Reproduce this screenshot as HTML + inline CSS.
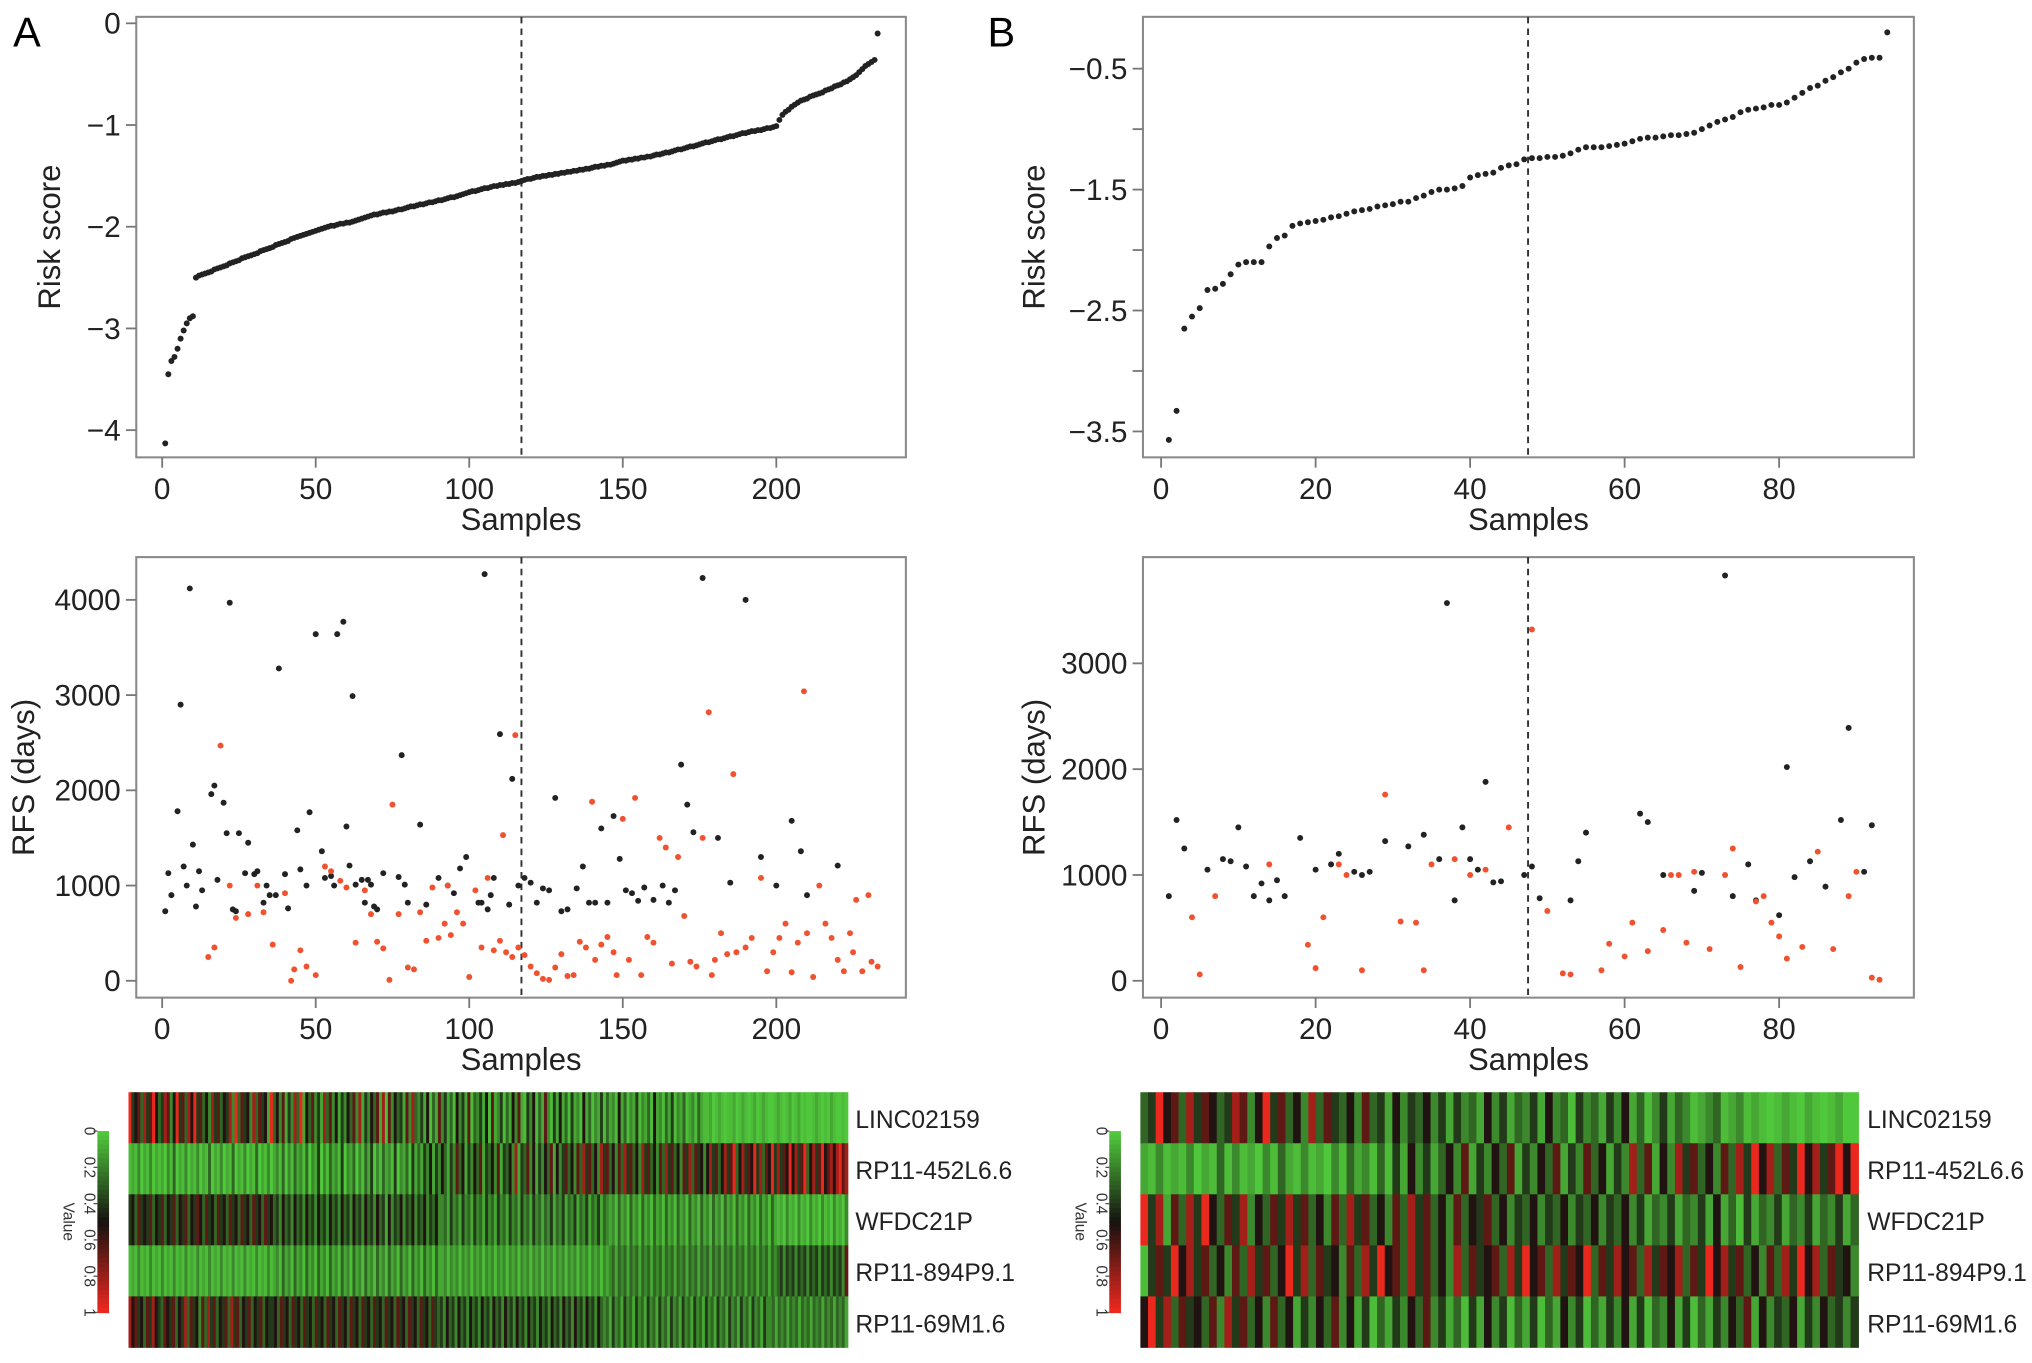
<!DOCTYPE html>
<html><head><meta charset="utf-8"><style>
html,body{margin:0;padding:0;background:#fff;}
svg{display:block;font-family:"Liberation Sans",Arial,sans-serif;}
</style></head><body>
<svg id="fig" width="2032" height="1363" viewBox="0 0 1568 1052" xmlns="http://www.w3.org/2000/svg">
<rect width="1568" height="1052" fill="#fff"/>
<text x="10" y="36" font-size="32">A</text>
<text x="762" y="36" font-size="32">B</text>
<g id="root"></g>
</svg>
<script>
// ---------- DATA ----------
const riskA = [-4.13,-3.45,-3.32,-3.28,-3.2,-3.1,-3.02,-2.95,-2.9,-2.88,-2.5,
-2.48,-2.47,-2.46,-2.45,-2.44,-2.42,-2.41,-2.4,-2.39,-2.38,
-2.36,-2.35,-2.34,-2.33,-2.31,-2.3,-2.29,-2.28,-2.27,-2.26,
-2.24,-2.23,-2.22,-2.21,-2.2,-2.18,-2.17,-2.16,-2.15,-2.14,
-2.12,-2.11,-2.1,-2.09,-2.08,-2.07,-2.06,-2.05,-2.04,-2.03,
-2.02,-2.01,-2.0,-1.99,-1.99,-1.98,-1.97,-1.97,-1.96,-1.96,
-1.95,-1.94,-1.93,-1.92,-1.91,-1.9,-1.89,-1.88,-1.88,-1.87,
-1.86,-1.86,-1.85,-1.85,-1.84,-1.83,-1.83,-1.82,-1.81,-1.8,
-1.8,-1.79,-1.78,-1.78,-1.77,-1.76,-1.76,-1.75,-1.74,-1.74,
-1.73,-1.72,-1.71,-1.71,-1.7,-1.69,-1.68,-1.67,-1.66,-1.65,
-1.65,-1.64,-1.63,-1.62,-1.62,-1.61,-1.6,-1.6,-1.59,-1.59,
-1.58,-1.58,-1.57,-1.57,-1.56,-1.55,-1.54,-1.53,-1.53,-1.52,
-1.51,-1.51,-1.5,-1.5,-1.49,-1.49,-1.48,-1.48,-1.47,-1.47,
-1.46,-1.46,-1.45,-1.45,-1.44,-1.44,-1.43,-1.43,-1.42,-1.41,
-1.41,-1.4,-1.4,-1.39,-1.39,-1.38,-1.37,-1.36,-1.35,-1.35,
-1.34,-1.34,-1.33,-1.33,-1.32,-1.32,-1.31,-1.31,-1.3,-1.29,
-1.29,-1.28,-1.27,-1.27,-1.26,-1.25,-1.24,-1.24,-1.23,-1.22,
-1.21,-1.21,-1.2,-1.19,-1.18,-1.17,-1.17,-1.16,-1.15,-1.14,
-1.14,-1.13,-1.12,-1.11,-1.11,-1.1,-1.09,-1.08,-1.08,-1.07,
-1.06,-1.06,-1.05,-1.05,-1.04,-1.03,-1.03,-1.02,-1.01,-0.95,
-0.9,-0.87,-0.85,-0.82,-0.8,-0.78,-0.76,-0.75,-0.74,-0.72,
-0.71,-0.7,-0.69,-0.68,-0.66,-0.65,-0.64,-0.62,-0.61,-0.6,
-0.58,-0.57,-0.55,-0.53,-0.51,-0.48,-0.45,-0.42,-0.4,-0.38,
-0.36,-0.1];
const riskB = [-3.57,-3.33,-2.65,-2.55,-2.48,-2.33,-2.32,-2.28,-2.2,-2.12,-2.1,-2.1,-2.1,-1.97,-1.9,-1.88,-1.8,-1.78,-1.77,-1.76,
-1.75,-1.73,-1.72,-1.7,-1.68,-1.67,-1.66,-1.64,-1.63,-1.62,-1.6,-1.6,-1.57,-1.55,-1.52,-1.5,-1.5,-1.49,-1.47,-1.4,
-1.38,-1.37,-1.36,-1.32,-1.3,-1.29,-1.25,-1.24,-1.24,-1.23,-1.23,-1.22,-1.2,-1.17,-1.15,-1.15,-1.15,-1.14,-1.13,-1.12,
-1.1,-1.08,-1.07,-1.07,-1.06,-1.05,-1.05,-1.04,-1.03,-1.0,-0.97,-0.94,-0.92,-0.9,-0.86,-0.84,-0.83,-0.82,-0.8,-0.8,
-0.78,-0.74,-0.7,-0.66,-0.64,-0.6,-0.57,-0.53,-0.5,-0.45,-0.42,-0.41,-0.41,-0.2];
const rfsAliveA = [[1,730],[2,1130],[3,900],[5,1780],[6,2900],[7,1200],[8,1000],[9,4120],[10,1430],[11,780],[12,1150],[13,950],[16,1960],[17,2050],[18,1060],[20,1870],[21,1550],[22,3970],[23,750],[24,730],[25,1550],[27,1130],[28,1450],[30,1120],[31,1150],[33,820],[34,1000],[35,900],[37,900],[38,3280],[40,1120],[41,760],[44,1580],[45,1170],[47,1000],[48,1770],[50,3640],[52,1360],[53,1080],[55,1100],[56,1000],[57,3640],[59,3770],[60,1620],[61,1210],[62,2990],[63,1010],[65,1060],[66,820],[67,1060],[68,1010],[69,780],[70,750],[72,1130],[77,1090],[78,2370],[79,1010],[80,820],[84,1640],[86,800],[90,1080],[93,1000],[95,920],[97,1180],[99,1300],[103,820],[104,820],[105,4270],[106,750],[107,900],[108,1080],[110,2590],[113,800],[114,2120],[116,1000],[118,1080],[120,1030],[122,820],[124,970],[126,950],[128,1920],[130,730],[132,750],[135,970],[137,1200],[139,820],[141,820],[143,1600],[145,820],[147,1730],[149,1280],[151,950],[153,920],[155,840],[157,980],[160,850],[163,1000],[165,820],[167,950],[169,2270],[171,1850],[173,1560],[176,4230],[181,1500],[185,1030],[190,4000],[195,1300],[200,1000],[205,1680],[208,1360],[210,900],[220,1210]];
const rfsEventA = [[15,250],[17,350],[19,2470],[22,1000],[24,660],[28,700],[31,1000],[33,720],[36,380],[40,920],[42,0],[43,120],[45,320],[47,150],[50,60],[53,1200],[55,1150],[58,1050],[60,980],[63,400],[66,950],[68,700],[70,410],[72,340],[74,10],[75,1850],[77,700],[80,140],[82,120],[84,720],[86,420],[88,980],[90,450],[92,600],[93,1000],[94,480],[96,720],[98,600],[100,40],[102,950],[104,350],[106,1080],[108,320],[110,420],[111,1530],[112,300],[114,250],[115,2580],[116,350],[118,270],[120,150],[122,80],[124,20],[126,10],[128,140],[130,280],[132,50],[134,60],[136,410],[138,350],[140,1880],[141,220],[143,380],[145,460],[147,300],[148,60],[150,1700],[152,220],[154,1920],[156,60],[158,460],[160,400],[162,1500],[164,1400],[166,180],[168,1300],[170,680],[172,200],[174,150],[176,1500],[178,2820],[179,60],[180,220],[182,500],[184,280],[186,2170],[187,300],[190,350],[192,450],[195,1080],[197,100],[199,300],[201,450],[203,600],[205,90],[207,400],[209,3040],[210,500],[212,40],[214,1000],[216,600],[218,450],[220,220],[222,100],[224,500],[225,300],[226,850],[228,100],[230,900],[231,200],[233,150]];
const rfsAliveB = [[1,800],[2,1520],[3,1250],[6,1050],[8,1150],[9,1130],[10,1450],[11,1080],[12,800],[13,920],[14,760],[15,950],[16,800],[18,1350],[20,1050],[22,1100],[23,1200],[25,1030],[26,1000],[27,1030],[29,1320],[32,1270],[34,1380],[36,1150],[37,3570],[38,760],[39,1450],[40,1150],[41,1050],[42,1880],[43,930],[44,940],[47,1000],[48,1080],[49,780],[53,760],[54,1130],[55,1400],[62,1580],[63,1500],[65,1000],[69,850],[70,1020],[73,3830],[74,800],[76,1100],[77,760],[80,620],[81,2020],[82,980],[84,1130],[86,890],[88,1520],[89,2390],[91,1030],[92,1470]];
const rfsEventB = [[4,600],[5,60],[7,800],[14,1100],[19,340],[20,120],[21,600],[23,1100],[24,1000],[26,100],[29,1760],[31,560],[33,550],[34,100],[35,1100],[38,1150],[40,1000],[42,1050],[45,1450],[48,3320],[50,660],[52,70],[53,60],[57,100],[58,350],[60,230],[61,550],[63,280],[65,480],[66,1000],[67,1000],[68,360],[69,1030],[71,300],[73,1000],[74,1250],[75,130],[77,750],[78,800],[79,550],[80,420],[81,210],[83,320],[85,1220],[87,300],[89,800],[90,1030],[92,30],[93,10]];
const genes = ["LINC02159","RP11-452L6.6","WFDC21P","RP11-894P9.1","RP11-69M1.6"];
const heatA = [
"9567485796458736957486957463857465839475638475629463725384926473528473625364738253647281736452738435261427352416352714352617235142637215361427315262415231624132514231624132513241623142513241231421120121011201210120121001210120120100121010210010",
"1213021302120314021302130214021302140213021402130231403142314032503142315032403142503142315032415242536253642537462536472546372546382547362536472635746374857463857463748574638574637485746375847563685746857946857695847695857696857946857967868978",
"5647565746574657465746576475647564756475647564756453645364536453645364536453645364536452635463546354635463342534253425342534253425342534253424352435243524352435243231423142314231423142314231423142314231423142314231423142120312031203120312031203",
"1213121312131213121312131213121312131213121312131231423142314231423142314231423142314231423142314231423142231323132313231323132313231323132313231323132313231323132342434243424342434243424342434243424342434243424342434243453545354535453545354537",
"8675647586547657465847563748574657485746574657465564756475647564756475647564756475647564756475647564756475453645364536453645364536453645364536453645364536453645364342534253425342534253425342534253425342534253425342534253342434243424342434243424342"];
const heatB = [
"4596748576458736957463847546374526354635253426352435263415342536241352431234123121012102101200",
"2131213021413120314213120314231415263524637253647253647253746253847263857463748596847596857969",
"9582748596475836475857463748574637485746374657463546354635463546352435243526241524352435243524",
"1575968574637485746958475637485967485746384756748596748576947586748576847596857463748596847563",
"6958475647385746374625364736251425364735241526351425142635142536251436251425364726354625364535"];
const ticksXA = [0,50,100,150,200];
const ticksXB = [0,20,40,60,80];
const ticksRiskA = [0,-1,-2,-3,-4];
const ticksRiskB = [-0.5,-1,-1.5,-2,-2.5,-3,-3.5];
const labelsRiskB = ["−0.5","","−1.5","","−2.5","","−3.5"];
const ticksRfsA = [0,1000,2000,3000,4000];
const ticksRfsB = [0,1000,2000,3000];
const cbTicks = ["0","0.2","0.4","0.6","0.8","1"];
const cutA = 117, cutB = 47.5;

// ---------- DRAW ----------
const NS="http://www.w3.org/2000/svg";
const root=document.getElementById('root');
function el(tag,attrs,parent){const e=document.createElementNS(NS,tag);for(const k in attrs)e.setAttribute(k,attrs[k]);(parent||root).appendChild(e);return e;}
function lin(d0,d1,r0,r1){return v=>r0+(v-d0)*(r1-r0)/(d1-d0);}
const minus=s=>String(s).replace('-','−');

function panel(cfg){
  const g=el('g',{});
  
  
  const {x0,x1,y0,y1}=cfg.box;
  const box=el('rect',{x:x0,y:y0,width:x1-x0,height:y1-y0,fill:'none',stroke:'#8a8a8a','stroke-width':1.6},g);
  
  
  cfg.xticks.forEach(t=>{
    const X=cfg.sx(t);
    el('line',{x1:X,x2:X,y1:y1,y2:y1+8,stroke:'#777','stroke-width':1.4},g);
    const tx=el('text',{x:X,y:y1+32,'font-size':23,'text-anchor':'middle',fill:'#222'},g);
    tx.textContent=t;
    
    
  });
  cfg.yticks.forEach((t,i)=>{
    const Y=cfg.sy(t);
    el('line',{x1:x0-8,x2:x0,y1:Y,y2:Y,stroke:'#777','stroke-width':1.4},g);
    const lab=cfg.ylabels?cfg.ylabels[i]:minus(t);
    if(lab!==""){
      const tx=el('text',{x:x0-12,y:Y+8,'font-size':23,'text-anchor':'end',fill:'#222'},g);
      tx.textContent=lab;
      
      
    }
  });
  const xt=el('text',{x:(x0+x1)/2,y:y1+56,'font-size':24,'text-anchor':'middle',fill:'#222'},g);
  xt.textContent='Samples';
  
  
  const yt=el('text',{x:0,y:0,'font-size':24,'text-anchor':'middle',fill:'#222',transform:`translate(${cfg.ytx},${(y0+y1)/2}) rotate(-90)`},g);
  yt.textContent=cfg.ytitle;
  
  
  const cx=cfg.sx(cfg.cut);
  const dl=el('line',{x1:cx,x2:cx,y1:y0,y2:y1,stroke:'#333','stroke-width':1.5,'stroke-dasharray':'5,4'},g);
  
  
  return g;
}
function dot(g,x,y,c,name){
  const d=el('circle',{cx:x,cy:y,r:2.3,fill:c},g);
  
  
}

{
  const sx=lin(0,200,125,599), sy=lin(0,-4,18,332);
  const g=panel({name:'risk-score-plot-a',box:{x0:105,x1:699,y0:13,y1:353},sx,sy,xticks:ticksXA,yticks:ticksRiskA,ytitle:'Risk score',ytx:46,cut:cutA});
  riskA.forEach((v,i)=>dot(g,sx(i+1),sy(v),'#222','risk-point'));
}
{
  const sx=lin(0,80,896,1373), sy=lin(-0.5,-3.5,53,333);
  const g=panel({name:'risk-score-plot-b',box:{x0:882,x1:1477,y0:13,y1:353},sx,sy,xticks:ticksXB,yticks:ticksRiskB,ylabels:labelsRiskB,ytitle:'Risk score',ytx:806,cut:cutB});
  riskB.forEach((v,i)=>dot(g,sx(i+1),sy(v),'#222','risk-point'));
}
{
  const sx=lin(0,200,125,599), sy=lin(0,4000,757,463);
  const g=panel({name:'rfs-plot-a',box:{x0:105,x1:699,y0:430,y1:770},sx,sy,xticks:ticksXA,yticks:ticksRfsA,ytitle:'RFS (days)',ytx:26,cut:cutA});
  rfsAliveA.forEach(p=>dot(g,sx(p[0]),sy(p[1]),'#222','rfs-point-alive'));
  rfsEventA.forEach(p=>dot(g,sx(p[0]),sy(p[1]),'#f0522f','rfs-point-recurrence'));
}
{
  const sx=lin(0,80,896,1373), sy=lin(0,3000,757,512);
  const g=panel({name:'rfs-plot-b',box:{x0:882,x1:1477,y0:430,y1:770},sx,sy,xticks:ticksXB,yticks:ticksRfsB,ytitle:'RFS (days)',ytx:806,cut:cutB});
  rfsAliveB.forEach(p=>dot(g,sx(p[0]),sy(p[1]),'#222','rfs-point-alive'));
  rfsEventB.forEach(p=>dot(g,sx(p[0]),sy(p[1]),'#f0522f','rfs-point-recurrence'));
}

function col(v){
  const G=[80,200,60],K=[22,18,16],R=[235,40,30];
  let a,b,t;
  if(v<0.5){a=G;b=K;t=v/0.5;}else{a=K;b=R;t=(v-0.5)/0.5;}
  return `rgb(${a.map((c,i)=>Math.round(c+(b[i]-c)*t)).join(',')})`;
}
function heatmap(rows,x0,x1,y0,y1,labx,cbx,name){
  const g=el('g',{});
  
  
  const rh=(y1-y0)/rows.length;
  rows.forEach((r,ri)=>{
    const n=r.length, w=(x1-x0)/n;
    for(let i=0;i<n;i++){
      const v=Math.pow((+r[i])/9,1.6);
      const c=el('rect',{x:x0+i*w,y:y0+ri*rh,width:w+0.6,height:rh+0.3,fill:col(v)},g);
      
      
    }
    const t=el('text',{x:labx,y:y0+ri*rh+rh/2+8,'font-size':19,fill:'#222'},g);
    t.textContent=genes[ri];
    
    
  });
  const cb=el('g',{},g);
  
  
  const cy0=873, cy1=1013, steps=40;
  for(let i=0;i<steps;i++){
    el('rect',{x:cbx,y:cy0+i*(cy1-cy0)/steps,width:9,height:(cy1-cy0)/steps+0.5,fill:col(i/(steps-1))},cb);
  }
  cbTicks.forEach((t,i)=>{
    const Y=cy0+i*(cy1-cy0)/(cbTicks.length-1);
    el('line',{x1:cbx-3,x2:cbx,y1:Y,y2:Y,stroke:'#555','stroke-width':1},cb);
    const tx=el('text',{x:0,y:0,'font-size':12,'text-anchor':'middle',fill:'#333',transform:`translate(${cbx-10},${Y}) rotate(90)`},cb);
    tx.textContent=t;
    
    
  });
  const vt=el('text',{x:0,y:0,'font-size':12,'text-anchor':'middle',fill:'#333',transform:`translate(${cbx-26},${(cy0+cy1)/2}) rotate(90)`},cb);
  vt.textContent='Value';
  
  
}
heatmap(heatA,99,654,843,1040,660,75,'heatmap-a');
heatmap(heatB,880,1434,843,1040,1441,856,'heatmap-b');
</script>
</body></html>
